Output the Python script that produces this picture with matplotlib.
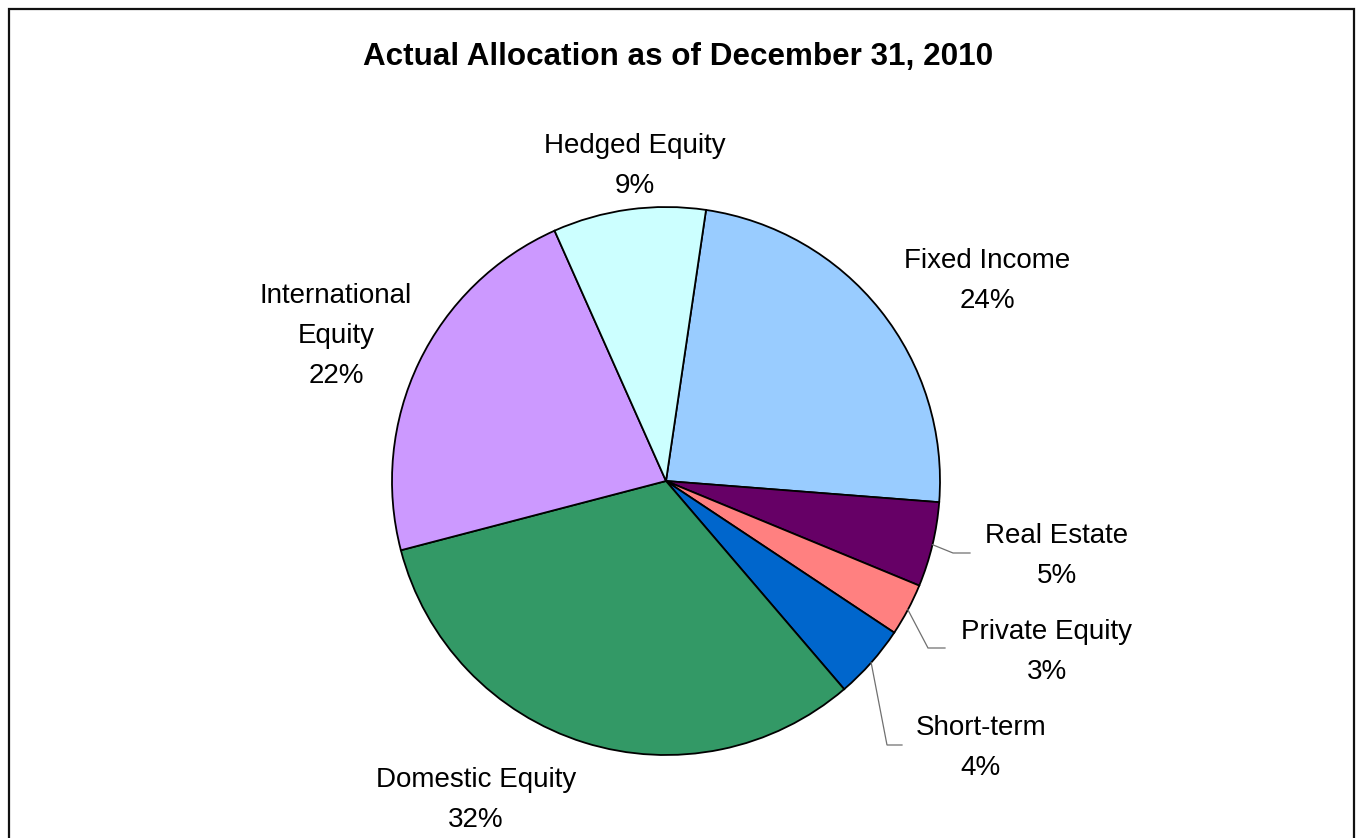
import numpy as np
import matplotlib
matplotlib.use("Agg")
import matplotlib.pyplot as plt
from matplotlib.patches import Rectangle

# Asset allocation (percent of total), clockwise from the top
categories = ["Fixed Income", "Real Estate", "Private Equity", "Short-term",
              "Domestic Equity", "International\nEquity", "Hedged Equity"]
shares = [23.9, 5.0, 3.1, 4.4, 32.2, 22.4, 9.0]
colors = ["#99CCFF", "#660066", "#FF8080", "#0066CC",
          "#339966", "#CC99FF", "#CCFFFF"]
title = "Actual Allocation as of December 31, 2010"

W, H = 1361, 838
fig = plt.figure(figsize=(W / 100, H / 100), dpi=100)
ax = fig.add_axes([0, 0, 1, 1])

# axes in pixel units (y measured upward)
cx, cy, r = 666, H - 481, 274
wedges, _ = ax.pie(shares, colors=colors, startangle=81.6, counterclock=False,
                   radius=r, center=(cx, cy),
                   wedgeprops=dict(edgecolor="black", linewidth=1.3))
ax.set_xlim(0, W)
ax.set_ylim(0, H)
ax.set_aspect("auto")
ax.axis("off")

font = "Liberation Sans"
ax.text(678.5, H - 65, title, ha="center", va="baseline",
        fontsize=22.6, fontweight="bold", family=font)

# label anchor: centre x, first baseline (pixels from top)
label_pos = {
    "Fixed Income": (987, 268),
    "Real Estate": (1057, 543),
    "Private Equity": (1047, 639),
    "Short-term": (981, 735),
    "Domestic Equity": (476, 787),
    "International\nEquity": (336, 303),
    "Hedged Equity": (635, 153),
}
line_step = 40
for name, val in zip(categories, shares):
    x, y0 = label_pos[name]
    lines = name.split("\n") + [f"{val:.0f}%"]
    for i, s in enumerate(lines):
        ax.text(x, H - (y0 + i * line_step), s, ha="center", va="baseline",
                fontsize=20, family=font, color="black")

# leader lines for the small slices: wedge edge -> elbow -> label
leaders = {
    "Real Estate": [(953, 553), (970, 553)],
    "Private Equity": [(928, 648), (945, 648)],
    "Short-term": [(887, 745), (902, 745)],
}
for w, name in zip(wedges, categories):
    if name not in leaders:
        continue
    mid = np.deg2rad((w.theta1 + w.theta2) / 2)
    xs = [cx + r * np.cos(mid)] + [p[0] for p in leaders[name]]
    ys = [cy + r * np.sin(mid)] + [H - p[1] for p in leaders[name]]
    ax.plot(xs, ys, color="#707070", linewidth=0.9, solid_joinstyle="miter")

# chart-area border
fig.patches.append(Rectangle((9 / W, -0.02), (1354 - 9) / W, 1.02 - 9 / H,
                             transform=fig.transFigure, fill=False,
                             edgecolor="#111111", linewidth=1.6))

fig.savefig("out.png", dpi=100, facecolor="white")
